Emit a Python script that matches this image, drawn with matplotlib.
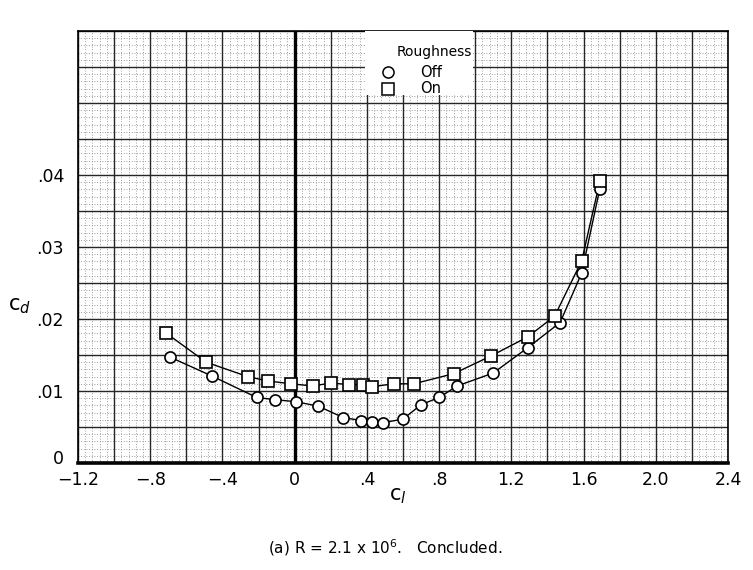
"""Drag polar c_d vs c_l, roughness off/on (R = 2.1 x 10^6, concluded)."""

import matplotlib

matplotlib.use("Agg")
matplotlib.rcParams["font.family"] = ["DejaVu Sans"]
import matplotlib.pyplot as plt
import matplotlib.transforms as mtransforms
import numpy as np
from matplotlib.patches import Rectangle

# roughness off (circles)
cl_off = [-0.69, -0.46, -0.21, -0.11, 0.01, 0.13, 0.27, 0.37, 0.43, 0.49,
          0.60, 0.70, 0.80, 0.90, 1.10, 1.29, 1.47, 1.59, 1.69]
cd_off = [0.0147, 0.0121, 0.0091, 0.0088, 0.0085, 0.0079, 0.0063, 0.0059, 0.0057, 0.0056,
          0.0061, 0.0081, 0.0091, 0.0107, 0.0125, 0.0160, 0.0195, 0.0264, 0.0381]

# roughness on (squares)
cl_on = [-0.71, -0.49, -0.26, -0.15, -0.02, 0.10, 0.20, 0.30, 0.38, 0.43,
         0.55, 0.66, 0.88, 1.09, 1.29, 1.44, 1.59, 1.69]
cd_on = [0.0180, 0.0140, 0.0120, 0.0114, 0.0110, 0.0107, 0.0111, 0.0109, 0.0109, 0.0106,
         0.0110, 0.0110, 0.0124, 0.0149, 0.0175, 0.0204, 0.0281, 0.0391]

x_ticks = [-1.2, -0.8, -0.4, 0, 0.4, 0.8, 1.2, 1.6, 2.0, 2.4]
x_labels = ["\u22121.2", "\u2212.8", "\u2212.4", "0", ".4", ".8", "1.2", "1.6", "2.0", "2.4"]
y_ticks = [0, 0.01, 0.02, 0.03, 0.04]
y_labels = ["0", ".01", ".02", ".03", ".04"]

fig = plt.figure(figsize=(7.53, 5.70), dpi=100)
ax = fig.add_axes([78 / 753, 1 - 463 / 570, 650 / 753, 432 / 570])
ax.set_xlim(-1.2, 2.4)
ax.set_ylim(0, 0.06)

# graph paper: dotted fine grid, solid coarse grid
for xv in np.arange(-1.2, 2.4001, 0.04):
    ax.axvline(xv, color="0.5", lw=0.6, ls=(0, (1, 2.2)), zorder=0)
for yv in np.arange(0, 0.0601, 0.001):
    ax.axhline(yv, color="0.5", lw=0.6, ls=(0, (1, 2.2)), zorder=0)
for xv in np.arange(-1.2, 2.4001, 0.2):
    ax.axvline(xv, color="0.15", lw=1.0, zorder=1)
for yv in np.arange(0, 0.0601, 0.005):
    ax.axhline(yv, color="0.15", lw=1.0, zorder=1)
ax.axvline(0, color="black", lw=2.4, zorder=1)

for side in ("top", "right", "left"):
    ax.spines[side].set_linewidth(1.2)
ax.spines["bottom"].set_linewidth(2.6)

ax.plot(cl_off, cd_off, color="black", lw=1.0, zorder=3)
ax.plot(cl_on, cd_on, color="black", lw=1.0, zorder=3)
ax.plot(cl_off, cd_off, ls="none", marker="o", ms=8, mfc="white", mec="black", mew=1.2, zorder=4)
ax.plot(cl_on, cd_on, ls="none", marker="s", ms=8, mfc="white", mec="black", mew=1.2, zorder=4)

ax.set_xticks(x_ticks)
ax.set_xticklabels(x_labels, fontsize=12.5)
ax.set_yticks(y_ticks)
ax.set_yticklabels(y_labels, fontsize=12.5)
ax.tick_params(length=0, pad=6)
ax.tick_params(axis="y", pad=10)
# lift the "0" on the y axis a little so it clears "-1.2"
zero_lbl = ax.get_yticklabels()[0]
zero_lbl.set_transform(zero_lbl.get_transform()
                       + mtransforms.ScaledTranslation(0, 4 / 72, fig.dpi_scale_trans))

# legend block on a white patch
ax.add_patch(Rectangle((0.4415, 0.852), 0.166, 0.148, transform=ax.transAxes,
                       facecolor="white", edgecolor="none", zorder=5))
ax.text(0.548, 0.951, "Roughness", transform=ax.transAxes, fontsize=10,
        ha="center", va="center", zorder=6)
ax.plot([0.477], [0.905], transform=ax.transAxes, marker="o", ms=8, mfc="white",
        mec="black", mew=1.1, ls="none", zorder=6, clip_on=False)
ax.plot([0.477], [0.866], transform=ax.transAxes, marker="s", ms=8, mfc="white",
        mec="black", mew=1.1, ls="none", zorder=6, clip_on=False)
ax.text(0.526, 0.905, "Off", transform=ax.transAxes, fontsize=10.5, ha="left", va="center", zorder=6)
ax.text(0.526, 0.866, "On", transform=ax.transAxes, fontsize=10.5, ha="left", va="center", zorder=6)

fig.text(398 / 753, 1 - 496 / 570, "c$_l$", fontsize=15, ha="center", va="center")
fig.text(20 / 753, 1 - 306 / 570, "c$_d$", fontsize=15, ha="center", va="center")
fig.text(385 / 753, 1 - 548 / 570, "(a) R = 2.1 x 10$^{6}$.   Concluded.",
         fontsize=11, ha="center", va="center")

fig.savefig("out.png", dpi=100, facecolor="white")
plt.close(fig)
